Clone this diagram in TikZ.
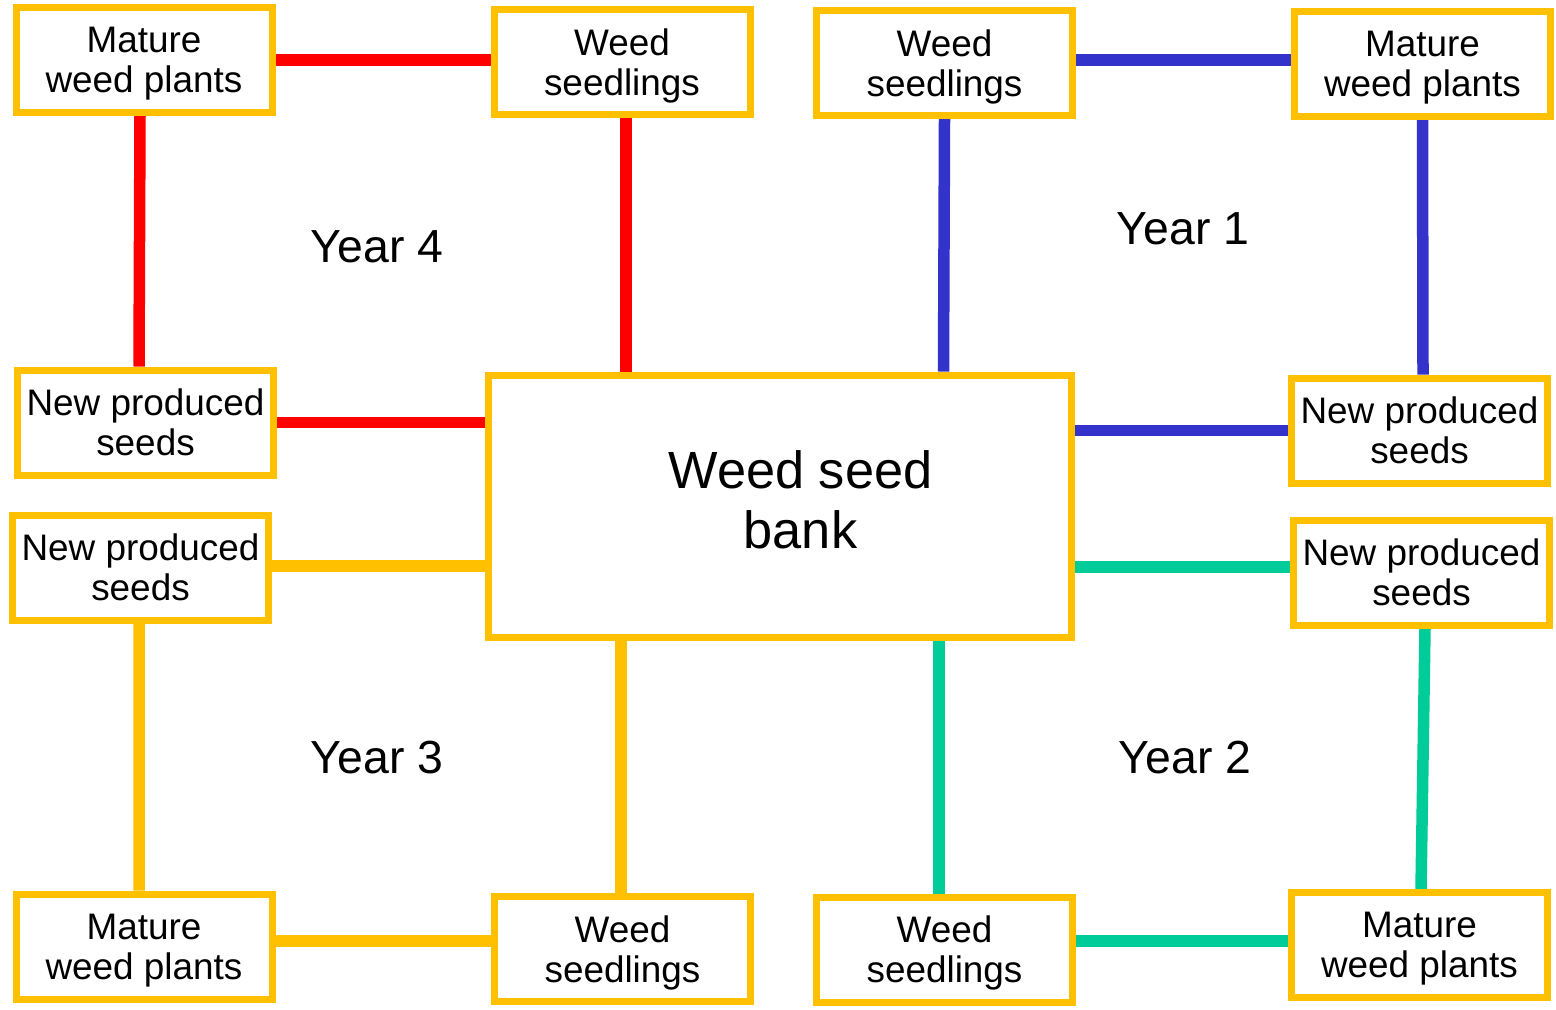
\documentclass[tikz,border=0pt]{standalone}
\usepackage{fontspec}
\setmainfont{Liberation Sans}
\usetikzlibrary{backgrounds}
\definecolor{boxorange}{HTML}{FFC000}
\definecolor{lred}{HTML}{FF0000}
\definecolor{lblue}{HTML}{3333CC}
\definecolor{lgreen}{HTML}{00CC99}
\tikzset{
  stagebox/.style={draw=boxorange, line width=0.07cm, fill=white, minimum width=2.56cm, minimum height=1.05cm, inner sep=0pt, text depth=0pt, align=center, font=\fontsize{10.5}{11.4}\selectfont},
  bankbox/.style={draw=boxorange, line width=0.07cm, fill=white, minimum width=5.83cm, minimum height=2.62cm, inner sep=0pt},
  banktext/.style={align=center, font=\fontsize{14.9}{17}\selectfont},
  yeartext/.style={font=\fontsize{13.2}{15}\selectfont},
  conn/.style={line width=0.115cm},
}
\begin{document}
\begin{tikzpicture}[x=1cm,y=1cm]
\useasboundingbox (0,0) rectangle (15.56,-10.09);
% top-left quadrant (Year 4)
\node[stagebox] (m4) at (1.44,-0.60) {Mature\\weed plants};
\node[stagebox] (s4) at (6.22,-0.62) {Weed\\seedlings};
\node[stagebox] (n4) at (1.455,-4.225) {New produced\\seeds};
% top-right quadrant (Year 1)
\node[stagebox] (s1) at (9.445,-0.63) {Weed\\seedlings};
\node[stagebox] (m1) at (14.225,-0.64) {Mature\\weed plants};
\node[stagebox] (n1) at (14.195,-4.305) {New produced\\seeds};
% lower-left (Year 3)
\node[stagebox] (n3) at (1.405,-5.675) {New produced\\seeds};
\node[stagebox] (m3) at (1.44,-9.465) {Mature\\weed plants};
\node[stagebox] (s3) at (6.225,-9.49) {Weed\\seedlings};
% lower-right (Year 2)
\node[stagebox] (n2) at (14.215,-5.725) {New produced\\seeds};
\node[stagebox] (s2) at (9.445,-9.495) {Weed\\seedlings};
\node[stagebox] (m2) at (14.195,-9.45) {Mature\\weed plants};
% central bank
\node[bankbox] (bank) at (7.80,-5.06) {};
\node[banktext] (banklabel) at (8.005,-5.00) {Weed seed\\bank};
% year labels
\node[yeartext] (y4) at (3.77,-2.47) {Year 4};
\node[yeartext] (y1) at (11.83,-2.29) {Year 1};
\node[yeartext] (y3) at (3.77,-7.58) {Year 3};
\node[yeartext] (y2) at (11.85,-7.58) {Year 2};
\begin{scope}[on background layer]
% red
\draw[conn, lred] (m4.east |- 0,-0.60) -- (s4.west |- 0,-0.60);
\draw[conn, lred] ([xshift=-0.04cm]m4.south) -- ([xshift=-0.065cm]n4.north);
\draw[conn, lred] ([xshift=0.04cm]s4.south) -- ([xshift=0.04cm]s4.south |- bank.north);
\draw[conn, lred] (n4.east) -- (n4.east -| bank.west);
% blue
\draw[conn, lblue] (s1.east |- 0,-0.60) -- (m1.west |- 0,-0.60);
\draw[conn, lblue] (s1.south) -- ([xshift=-0.01cm]s1.south |- bank.north);
\draw[conn, lblue] (m1.south) -- ([xshift=0.035cm]n1.north);
\draw[conn, lblue] (bank.east |- n1.west) -- (n1.west);
% green
\draw[conn, lgreen] (bank.east |- 0,-5.67) -- (n2.west |- 0,-5.67);
\draw[conn, lgreen] ([xshift=0.035cm]n2.south) -- ([xshift=0.015cm]m2.north);
\draw[conn, lgreen] (s2.east |- 0,-9.41) -- (m2.west |- 0,-9.41);
\draw[conn, lgreen] ([xshift=-0.055cm]s2.north) -- ([xshift=-0.055cm]s2.north |- bank.south);
% orange
\draw[conn, boxorange] (bank.west |- 0,-5.66) -- (n3.east |- 0,-5.66);
\draw[conn, boxorange] ([xshift=-0.015cm]n3.south) -- ([xshift=-0.05cm]m3.north);
\draw[conn, boxorange] (m3.east |- 0,-9.41) -- (s3.west |- 0,-9.41);
\draw[conn, boxorange] ([xshift=-0.015cm]s3.north) -- ([xshift=-0.015cm]s3.north |- bank.south);
\end{scope}
\end{tikzpicture}
\end{document}
